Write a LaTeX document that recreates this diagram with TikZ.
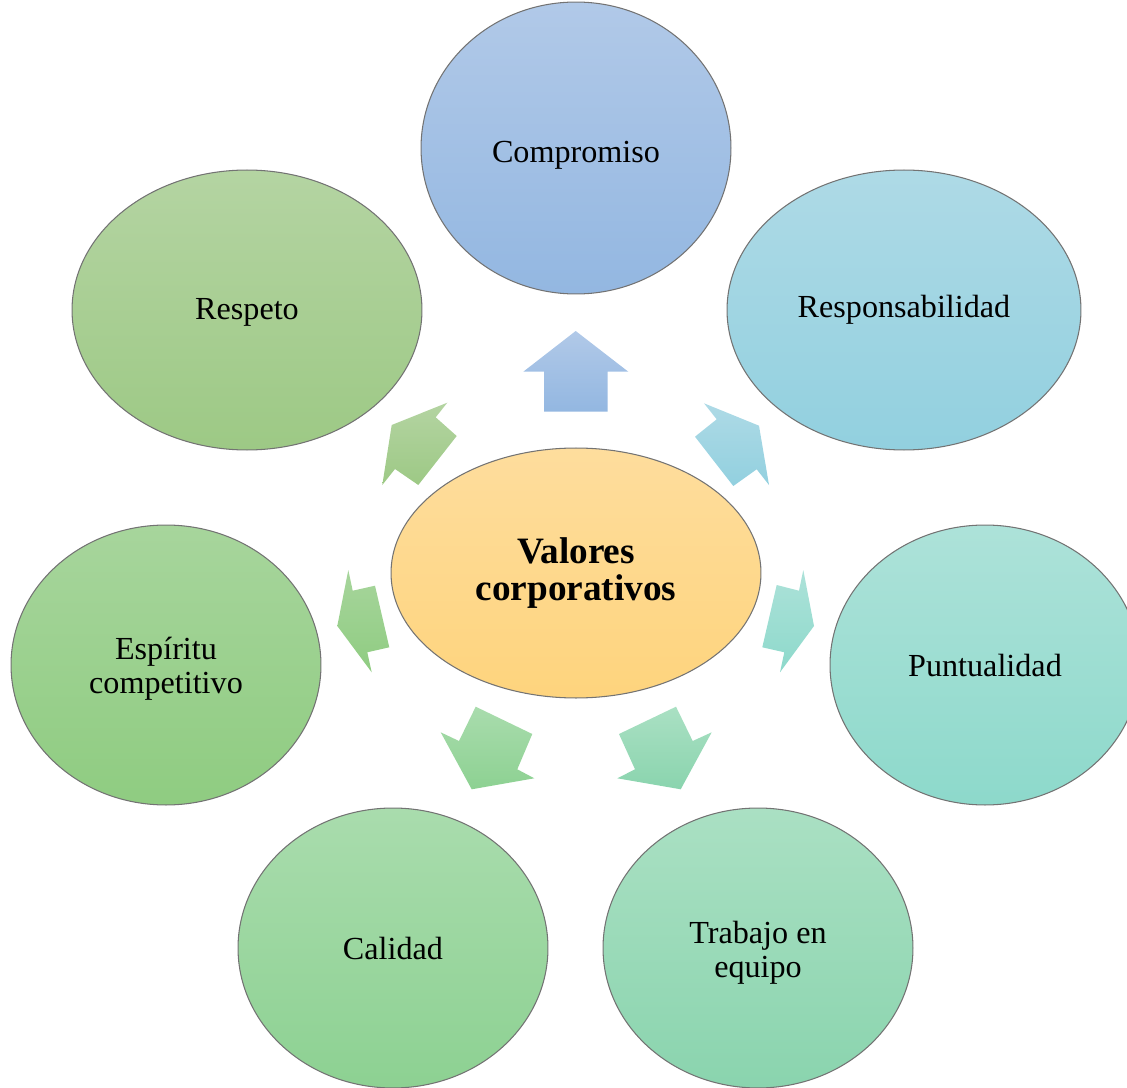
\documentclass[tikz,border=0pt]{standalone}
\usepackage{fontspec}
\setmainfont{Liberation Serif}
\usetikzlibrary{shapes.geometric}
\definecolor{compTop}{HTML}{B1C9E8}
\definecolor{compBot}{HTML}{93B7E1}
\definecolor{respTop}{HTML}{AEDAE6}
\definecolor{respBot}{HTML}{92D0DF}
\definecolor{resoTop}{HTML}{B4D4A2}
\definecolor{resoBot}{HTML}{9DC985}
\definecolor{centTop}{HTML}{FEDD9D}
\definecolor{centBot}{HTML}{FED47D}
\definecolor{espiTop}{HTML}{A7D59C}
\definecolor{espiBot}{HTML}{8FCC81}
\definecolor{puntTop}{HTML}{ADE2D9}
\definecolor{puntBot}{HTML}{8DD9CB}
\definecolor{caliTop}{HTML}{A9DCAD}
\definecolor{caliBot}{HTML}{8DD192}
\definecolor{trabTop}{HTML}{AAE0C3}
\definecolor{trabBot}{HTML}{8AD4AE}
\tikzset{
  every picture/.append style={line join=round},
  valor/.style={ellipse,draw=black!55,line width=0.6pt,inner sep=0pt,
    align=center,font=\fontsize{18.3}{19}\selectfont},
  valor chico/.style={valor,minimum width=6.2cm,minimum height=5.6cm},
  valor ancho/.style={valor,minimum width=7cm,minimum height=5.6cm},
  flecha/.style={draw=none}
}

\begin{document}
\begin{tikzpicture}[x=0.02cm, y=-0.02cm]
  \useasboundingbox (0,0) rectangle (1127,1088);
  \clip (0,0) rectangle (1127,1088);
  % ellipses
  \node[valor chico, minimum height=5.84cm, text height=20.5pt,
    top color=compTop, bottom color=compBot] (comp) at (576,148) {Compromiso};
  \node[valor, minimum width=7.08cm, minimum height=5.6cm,
    top color=respTop, bottom color=respBot] (resp) at (904,310) {Responsabilidad};
  \node[valor ancho, text height=15pt, top color=resoTop, bottom color=resoBot]
    (reso) at (247,310) {Respeto};
  \node[valor, minimum width=7.4cm, minimum height=5cm,
    top color=centTop, bottom color=centBot,
    font=\bfseries\fontsize{21.2}{21.5}\selectfont] (cent) at (576,573)
    {Valores\\corporativos};
  \node[valor chico, top color=espiTop, bottom color=espiBot]
    (espi) at (166,665) {\rule{0pt}{17pt}Espíritu\\competitivo};
  \node[valor chico, top color=puntTop, bottom color=puntBot]
    (punt) at (985,665) {Puntualidad};
  \node[valor chico, top color=caliTop, bottom color=caliBot]
    (cali) at (393,948) {Calidad};
  \node[valor chico, top color=trabTop, bottom color=trabBot]
    (trab) at (758,948) {\rule{0pt}{18pt}Trabajo en\\equipo};
  % block arrows
  \path[flecha, top color=compTop, bottom color=compBot]
    (575.7,331) -- (628.3,371.7) -- (607.7,371.7) -- (607.7,411.7)
    -- (544,411.7) -- (544,371.7) -- (523.3,371.7) -- cycle;
  \path[flecha, top color=respTop, bottom color=respBot]
    (704,403.3) -- (759,425.7) -- (769,485) -- (756.7,469.3)
    -- (733.3,486) -- (695,436.7) -- (716.7,419.3) -- cycle;
  \path[flecha, top color=resoTop, bottom color=resoBot]
    (447.3,402.7) -- (391.7,425) -- (382.3,485) -- (395,469)
    -- (418.3,485) -- (456.7,436) -- (435.7,417.3) -- cycle;
  \path[flecha, top color=espiTop, bottom color=espiBot]
    (348.3,570) -- (352.7,590.7) -- (375,585.7) -- (389.3,647.3)
    -- (367.3,652.3) -- (371.7,672.3) -- (337.3,626) -- cycle;
  \path[flecha, top color=puntTop, bottom color=puntBot]
    (803.3,570) -- (799,590.7) -- (776.7,585) -- (762.3,647.3)
    -- (784.3,652.3) -- (780,672.3) -- (814,626) -- cycle;
  \path[flecha, top color=caliTop, bottom color=caliBot]
    (475.7,706.7) -- (532.3,734) -- (517.3,769.3) -- (534.3,778.3)
    -- (471.7,789.3) -- (440.7,732.3) -- (459,741) -- cycle;
  \path[flecha, top color=trabTop, bottom color=trabBot]
    (676,706.7) -- (619,734) -- (635,769.3) -- (617.3,778.3)
    -- (680.7,789.3) -- (711.7,732.3) -- (692.7,741) -- cycle;
\end{tikzpicture}
\end{document}
